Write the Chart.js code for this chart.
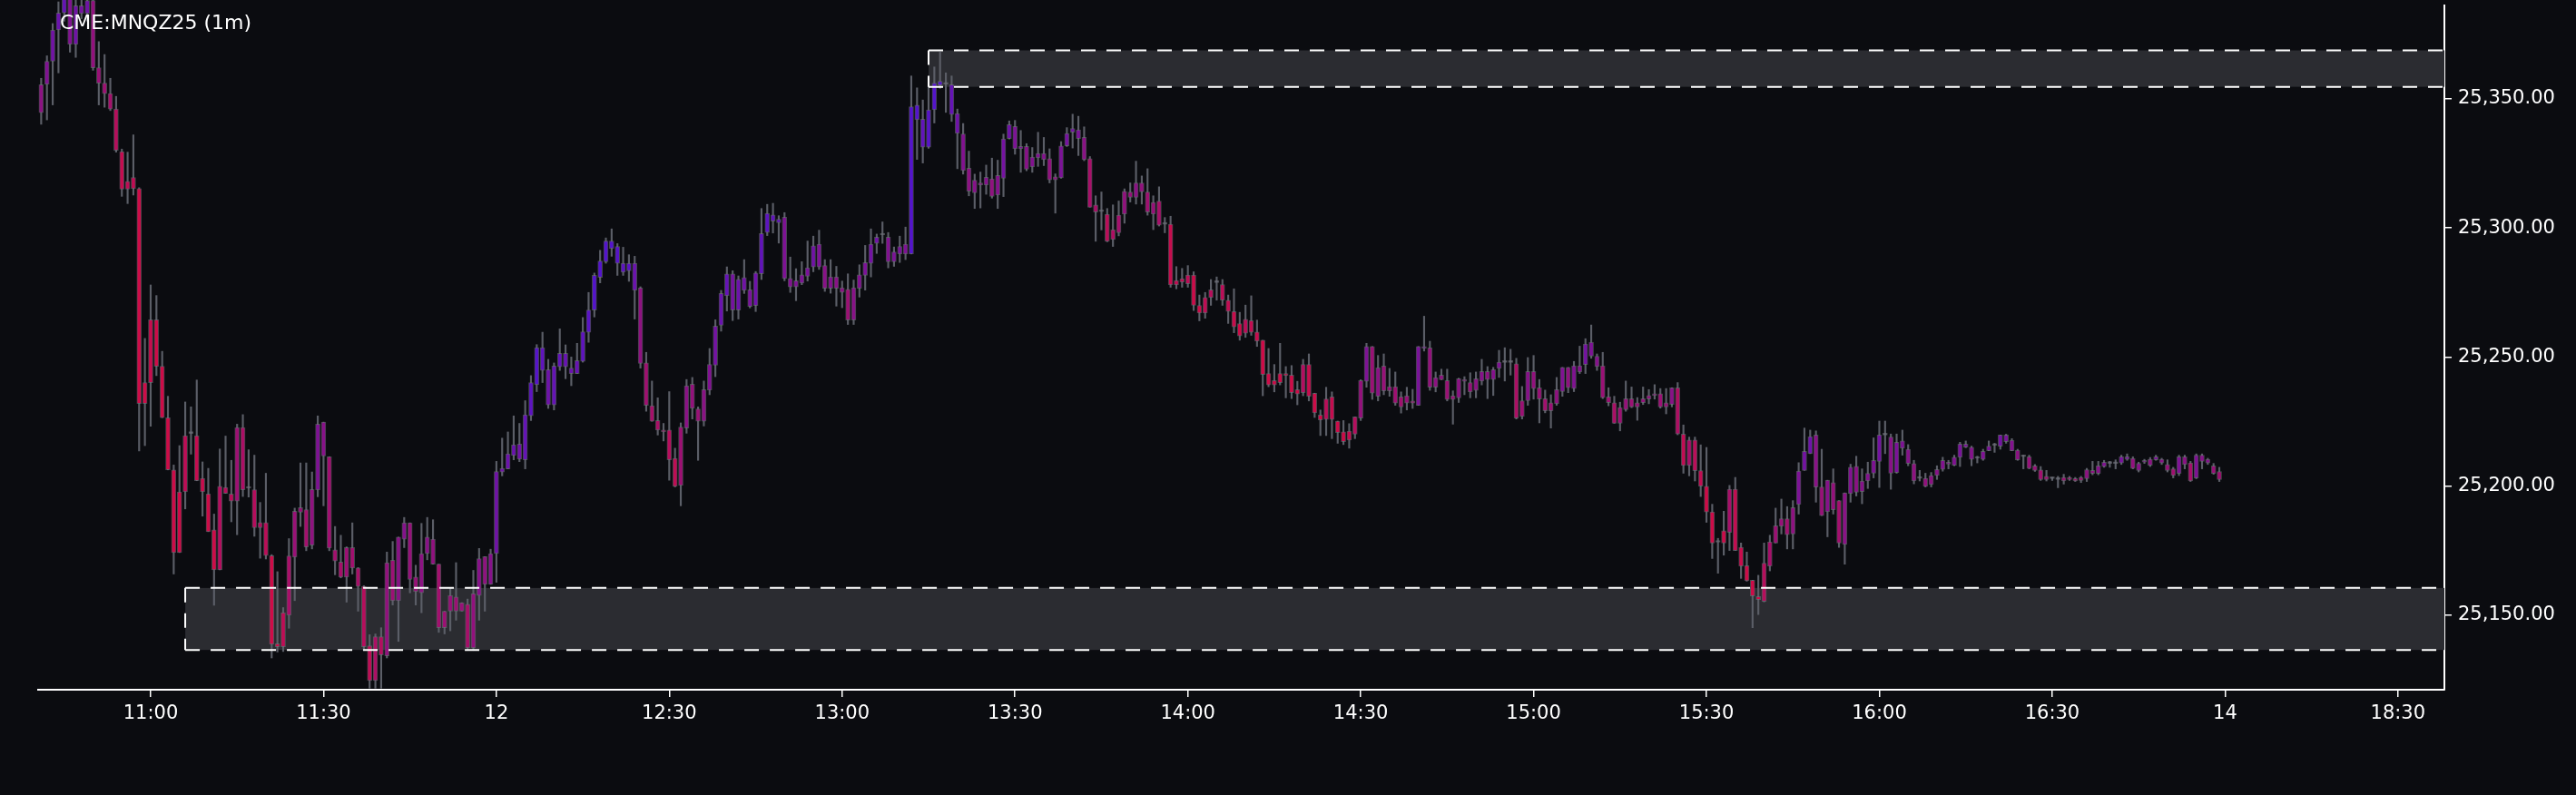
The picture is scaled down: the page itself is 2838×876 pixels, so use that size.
<!DOCTYPE html>
<html>
<head>
<meta charset="utf-8">
<script src="https://cdn.jsdelivr.net/npm/chart.js@4.4.0/dist/chart.umd.min.js"></script>
<style>
  html, body { margin: 0; padding: 0; background: #0b0c10; }
  #wrap { position: relative; width: 2838px; height: 876px; }
  #title {
    position: absolute; left: 66px; top: 12px;
    color: #ffffff; font: 22px 'DejaVu Sans', sans-serif; line-height: 26px;
    white-space: nowrap; pointer-events: none;
  }
</style>
</head>
<body>
<div id="wrap">
  <canvas id="chart" width="2838" height="876"></canvas>
  <div id="title">CME:MNQZ25 (1m)</div>
</div>
<script>
/* ── 1-minute bars, minutes counted from 11:00 ── */
const START_MIN = -19;

const OPEN = [
  25344.6,25355.6,25364.5,25376.6,25383.2,25389.0,25371.0,25386.0,25383.0,25388.0,
  25362.0,25356.0,25352.0,25346.0,25329.5,25315.0,25319.5,25315.2,25232.0,25240.1,
  25264.4,25246.4,25226.5,25206.3,25174.3,25197.8,25220.4,25219.5,25203.0,25197.0,
  25183.1,25167.6,25199.5,25197.0,25194.2,25222.7,25199.2,25198.6,25183.9,25185.9,
  25173.1,25139.0,25137.8,25150.0,25172.5,25189.9,25190.9,25177.2,25198.5,25224.8,
  25211.4,25175.4,25170.6,25164.8,25176.2,25168.3,25161.2,25138.2,25124.7,25141.7,
  25134.3,25171.3,25155.7,25179.5,25185.8,25164.8,25158.7,25173.9,25179.5,25169.8,
  25145.2,25151.6,25157.1,25151.6,25154.3,25137.4,25157.7,25172.7,25162.0,25173.9,
  25205.5,25206.7,25211.9,25216.3,25210.2,25227.2,25239.3,25253.6,25245.1,25231.5,
  25246.2,25251.4,25245.7,25243.6,25248.3,25259.6,25268.2,25280.8,25286.9,25294.9,
  25292.8,25286.3,25283.4,25286.3,25276.7,25247.7,25231.1,25225.4,25221.7,25221.7,
  25210.8,25200.3,25222.5,25239.5,25229.9,25225.1,25237.2,25246.8,25262.3,25273.7,
  25282.2,25268.2,25280.8,25276.0,25269.9,25282.2,25298.2,25305.0,25302.0,25304.1,
  25280.4,25277.1,25278.6,25281.3,25284.9,25293.7,25285.4,25276.6,25281.0,25276.8,
  25276.2,25264.3,25276.6,25281.6,25286.3,25294.0,25297.2,25296.4,25286.9,25289.9,
  25293.7,25289.9,25347.5,25342.1,25331.2,25345.7,25355.2,25355.6,25355.4,25344.3,
  25336.4,25323.1,25313.6,25317.4,25316.6,25319.0,25312.7,25319.2,25334.6,25339.3,
  25331.5,25331.5,25323.6,25327.1,25328.8,25326.8,25318.6,25319.4,25331.8,25337.0,
  25337.9,25335.0,25326.8,25308.9,25306.3,25305.3,25295.5,25298.1,25305.3,25313.9,
  25311.8,25317.4,25313.9,25305.3,25310.4,25301.4,25301.4,25277.9,25279.0,25278.4,
  25281.7,25270.0,25267.0,25273.0,25278.8,25278.0,25272.0,25267.6,25262.9,25259.2,
  25264.1,25259.7,25256.5,25243.6,25240.9,25240.1,25243.6,25243.0,25237.4,25236.2,
  25247.1,25236.0,25227.5,25225.8,25234.6,25225.2,25221.0,25217.8,25220.1,25226.4,
  25240.6,25254.1,25234.8,25246.5,25236.9,25238.5,25234.6,25232.2,25233.0,25231.3,
  25254.1,25253.5,25238.3,25243.0,25240.9,25233.6,25234.2,25241.2,25240.1,25237.1,
  25240.7,25244.4,25241.3,25245.6,25247.9,25247.9,25247.4,25227.0,25233.1,25244.4,
  25238.1,25233.9,25229.2,25231.9,25236.6,25246.0,25237.8,25246.6,25247.1,25255.7,
  25250.3,25246.6,25234.6,25232.3,25224.3,25229.6,25233.9,25230.7,25232.3,25233.7,
  25235.1,25235.8,25230.7,25231.6,25238.1,25220.2,25208.0,25217.9,25206.0,25200.0,
  25190.0,25178.3,25178.0,25182.1,25198.8,25176.3,25169.2,25163.6,25157.3,25155.4,
  25169.0,25178.0,25184.5,25187.4,25181.5,25192.9,25206.1,25212.6,25219.8,25199.7,
  25190.1,25201.4,25194.4,25177.4,25197.1,25207.7,25197.9,25202.0,25205.0,25209.6,
  25219.8,25219.0,25205.3,25217.5,25214.3,25208.7,25203.0,25203.0,25200.6,25204.1,
  25206.5,25209.3,25208.1,25211.2,25216.3,25215.1,25210.8,25210.4,25213.7,25215.8,
  25215.5,25219.8,25217.8,25213.9,25211.4,25211.4,25207.9,25206.3,25202.6,25202.9,
  25202.6,25202.0,25203.4,25202.9,25202.2,25202.9,25204.9,25204.9,25207.6,25208.8,
  25208.7,25209.0,25210.4,25210.8,25206.1,25209.3,25210.4,25210.2,25210.4,25208.4,
  25206.7,25204.9,25211.4,25209.0,25203.2,25212.0,25209.0,25207.9,25205.7
];

const HIGH = [
  25357.9,25366.6,25379.1,25387.5,25393.0,25392.0,25390.0,25392.0,25393.0,25391.0,
  25372.1,25367.1,25357.9,25350.9,25330.5,25329.3,25336.0,25315.5,25257.2,25277.9,
  25273.8,25252.2,25234.8,25208.2,25215.7,25232.6,25230.7,25241.1,25209.4,25206.9,
  25189.2,25214.4,25219.4,25210.0,25224.0,25227.7,25214.1,25212.0,25193.7,25205.0,
  25173.5,25166.9,25153.0,25179.7,25191.5,25209.0,25209.0,25205.5,25227.2,25224.8,
  25211.4,25184.4,25181.0,25176.5,25185.8,25168.5,25161.5,25142.5,25142.8,25145.2,
  25174.5,25178.6,25180.3,25187.9,25185.8,25169.4,25185.6,25187.9,25187.0,25169.8,
  25151.6,25160.4,25170.4,25154.9,25156.3,25167.4,25175.9,25172.7,25175.6,25209.6,
  25218.6,25221.0,25227.2,25224.3,25233.1,25242.8,25254.8,25259.6,25249.1,25247.7,
  25260.9,25254.7,25250.0,25255.3,25265.3,25275.0,25282.5,25291.3,25296.1,25299.6,
  25293.9,25292.5,25289.6,25289.0,25277.2,25251.8,25240.7,25234.2,25224.3,25236.6,
  25214.7,25224.5,25241.3,25242.1,25230.7,25240.7,25253.3,25264.4,25275.8,25284.9,
  25283.4,25281.4,25287.7,25279.3,25283.1,25307.5,25309.1,25309.5,25304.7,25305.9,
  25288.7,25284.2,25286.9,25294.9,25296.8,25299.1,25287.7,25287.7,25285.1,25279.4,
  25282.2,25279.8,25285.7,25293.2,25299.6,25297.6,25302.3,25298.2,25292.6,25296.8,
  25300.3,25358.8,25354.2,25349.5,25357.9,25362.3,25368.0,25360.0,25358.8,25346.0,
  25340.4,25329.7,25320.8,25321.6,25324.3,25327.0,25326.2,25336.3,25341.4,25341.6,
  25337.7,25332.6,25331.1,25337.0,25335.0,25330.6,25320.9,25333.4,25338.8,25344.0,
  25343.2,25339.1,25327.6,25312.4,25313.9,25307.5,25308.9,25310.4,25315.1,25317.4,
  25325.8,25320.1,25322.9,25312.4,25315.9,25304.0,25304.5,25285.0,25284.3,25285.4,
  25283.0,25274.0,25275.0,25280.0,25281.0,25280.0,25274.0,25276.4,25267.3,25270.1,
  25273.7,25264.3,25256.5,25253.3,25247.1,25255.3,25246.3,25246.7,25240.6,25249.1,
  25251.2,25236.0,25229.5,25238.3,25236.5,25225.2,25225.4,25224.2,25226.8,25241.2,
  25255.3,25254.1,25250.6,25251.2,25245.6,25244.2,25236.5,25238.3,25237.5,25254.1,
  25265.8,25256.1,25244.2,25245.3,25245.3,25236.9,25241.8,25242.4,25243.9,25244.2,
  25249.1,25246.3,25246.0,25252.6,25253.6,25253.0,25249.5,25238.6,25249.8,25250.6,
  25241.3,25237.2,25235.4,25242.1,25246.0,25246.0,25248.3,25254.2,25257.1,25262.4,
  25251.2,25251.8,25238.1,25234.8,25232.5,25240.7,25238.4,25234.3,25238.4,25237.4,
  25239.3,25237.8,25237.8,25238.1,25240.1,25223.7,25219.0,25219.0,25216.0,25215.0,
  25193.0,25179.8,25190.3,25200.3,25203.4,25178.0,25174.5,25163.6,25165.5,25178.0,
  25181.0,25191.5,25195.0,25192.1,25194.4,25209.1,25222.5,25221.7,25221.4,25214.3,
  25202.3,25206.7,25194.4,25197.4,25208.5,25211.6,25206.7,25209.3,25218.7,25225.2,
  25225.2,25220.2,25220.2,25221.7,25216.1,25210.0,25206.1,25205.0,25205.3,25207.9,
  25211.2,25210.0,25212.0,25217.0,25217.5,25215.5,25211.6,25214.3,25217.5,25216.6,
  25219.8,25220.1,25218.4,25214.3,25212.0,25212.0,25208.4,25207.6,25206.1,25203.4,
  25203.8,25204.6,25203.8,25203.4,25203.8,25206.9,25209.6,25209.6,25210.0,25209.6,
  25210.2,25212.0,25212.5,25211.4,25209.3,25210.4,25211.1,25212.0,25210.8,25210.2,
  25207.3,25212.0,25212.0,25209.6,25212.5,25212.5,25210.8,25208.8,25207.3
];

const LOW = [
  25340.1,25341.8,25347.6,25360.0,25380.0,25368.0,25366.0,25381.0,25380.0,25361.0,
  25347.6,25346.7,25345.4,25329.3,25312.2,25309.4,25312.7,25213.6,25215.7,25223.2,
  25242.8,25226.5,25206.3,25166.0,25174.3,25191.2,25212.4,25202.1,25188.4,25182.4,
  25153.9,25167.6,25197.2,25186.2,25181.2,25196.0,25195.8,25180.6,25172.1,25171.8,
  25133.5,25135.8,25136.0,25145.0,25155.7,25184.4,25175.0,25175.7,25195.9,25192.4,
  25175.0,25165.7,25164.5,25155.1,25166.0,25151.6,25136.4,25121.8,25121.8,25121.8,
  25133.5,25154.0,25139.9,25176.2,25158.7,25154.0,25151.0,25171.5,25169.8,25143.4,
  25142.8,25144.0,25148.1,25151.6,25136.4,25136.4,25148.1,25151.6,25162.0,25162.8,
  25204.0,25206.7,25210.2,25209.5,25206.7,25225.4,25236.6,25240.1,25230.1,25229.5,
  25244.8,25241.6,25238.9,25243.6,25248.0,25255.7,25265.5,25278.7,25286.3,25289.0,
  25281.6,25281.6,25279.3,25264.7,25245.7,25229.0,25225.1,25219.8,25217.5,25202.3,
  25199.7,25192.4,25220.5,25226.0,25210.0,25223.3,25235.4,25242.4,25260.0,25267.8,
  25264.1,25264.7,25274.6,25269.0,25267.6,25280.0,25297.0,25298.0,25294.1,25279.5,
  25275.0,25271.8,25278.0,25279.4,25283.0,25283.9,25275.4,25274.7,25269.7,25269.1,
  25262.6,25262.6,25273.2,25275.9,25281.0,25290.1,25294.0,25284.5,25285.1,25286.6,
  25287.7,25289.9,25326.5,25325.1,25330.8,25340.6,25354.0,25344.7,25341.2,25322.9,
  25320.8,25312.4,25307.5,25307.7,25313.0,25311.5,25307.5,25312.1,25334.4,25328.5,
  25321.5,25322.1,25321.5,25323.8,25324.1,25317.4,25305.7,25319.2,25331.5,25330.9,
  25328.0,25326.0,25308.0,25294.8,25299.2,25294.6,25292.8,25296.9,25301.8,25310.0,
  25309.2,25309.2,25304.9,25299.3,25300.7,25298.1,25277.0,25276.4,25277.0,25277.0,
  25268.0,25264.0,25265.0,25270.0,25272.0,25270.0,25263.0,25259.4,25256.5,25257.6,
  25258.4,25254.1,25235.0,25238.5,25236.5,25239.2,25234.2,25233.9,25231.5,25235.0,
  25233.0,25226.6,25219.6,25219.6,25218.4,25216.6,25216.1,25214.7,25218.4,25225.4,
  25238.3,25233.6,25233.0,25235.4,25234.8,25231.3,25228.3,25229.5,25230.1,25231.3,
  25252.3,25237.1,25236.5,25241.2,25233.0,25224.0,25232.4,25235.4,25234.2,25234.2,
  25239.2,25233.9,25235.1,25242.1,25240.7,25243.0,25226.0,25226.0,25231.3,25233.7,
  25224.5,25228.4,25222.5,25231.3,25234.8,25236.2,25236.6,25243.6,25243.6,25249.5,
  25244.8,25233.9,25231.1,25224.3,25221.4,25229.0,25230.4,25225.5,25231.6,25231.9,
  25233.7,25230.2,25228.0,25230.7,25219.9,25205.0,25204.0,25202.0,25196.0,25186.0,
  25172.0,25166.3,25173.3,25175.1,25175.1,25164.3,25163.2,25145.2,25150.3,25155.2,
  25167.2,25178.0,25181.5,25175.7,25175.7,25189.2,25206.1,25212.6,25193.8,25188.6,
  25180.4,25189.2,25176.3,25169.8,25193.8,25196.2,25193.2,25199.1,25203.2,25199.5,
  25212.6,25198.8,25205.0,25212.0,25207.9,25200.9,25202.0,25199.7,25199.7,25202.6,
  25205.8,25206.7,25207.9,25207.6,25214.9,25207.9,25209.0,25210.0,25213.7,25213.1,
  25214.3,25216.6,25213.7,25210.0,25206.7,25206.7,25205.7,25202.2,25202.0,25202.2,
  25199.4,25200.8,25202.2,25201.8,25201.4,25201.8,25204.4,25204.4,25207.3,25207.3,
  25206.7,25208.4,25210.0,25206.7,25205.5,25208.8,25207.6,25210.0,25208.4,25205.5,
  25203.2,25204.1,25206.7,25201.8,25202.9,25206.7,25208.4,25204.6,25201.8
];

const CLOSE = [
  25355.4,25364.5,25376.6,25383.2,25389.0,25371.0,25386.0,25383.0,25388.0,25362.0,
  25356.0,25352.0,25346.0,25330.0,25315.0,25318.0,25315.2,25232.0,25240.1,25264.4,
  25246.4,25226.5,25206.3,25174.3,25197.8,25219.5,25220.4,25202.1,25197.8,25182.4,
  25167.6,25200.0,25197.2,25194.2,25222.7,25198.6,25199.2,25183.9,25185.9,25173.1,
  25138.8,25137.8,25151.0,25173.0,25190.3,25191.7,25176.5,25198.7,25224.0,25211.7,
  25176.0,25171.0,25164.8,25176.2,25168.3,25161.2,25137.8,25124.7,25141.7,25134.7,
  25170.4,25155.7,25180.3,25185.8,25163.9,25159.2,25173.9,25180.3,25169.8,25145.2,
  25151.6,25157.7,25151.6,25154.9,25137.4,25158.4,25171.9,25162.0,25173.9,25205.7,
  25206.9,25212.5,25216.0,25210.5,25227.6,25240.1,25253.6,25244.8,25231.5,25246.5,
  25251.4,25246.2,25243.6,25248.6,25259.8,25268.2,25281.6,25287.2,25294.9,25292.0,
  25286.3,25282.8,25286.3,25275.8,25247.5,25231.3,25225.1,25221.7,25221.0,25210.2,
  25199.9,25222.9,25238.9,25230.1,25225.1,25237.4,25247.1,25262.0,25274.6,25282.2,
  25268.2,25280.1,25275.8,25269.6,25282.5,25297.8,25305.6,25302.6,25303.3,25280.4,
  25277.1,25279.5,25281.8,25284.5,25293.1,25284.9,25276.6,25281.0,25276.6,25275.0,
  25264.3,25276.8,25281.8,25286.6,25293.7,25296.4,25297.2,25286.9,25290.7,25292.8,
  25289.9,25346.9,25341.9,25331.2,25345.7,25356.0,25356.7,25355.6,25343.9,25336.6,
  25322.2,25314.2,25318.4,25316.6,25319.6,25312.2,25320.3,25334.4,25340.0,25330.6,
  25330.6,25322.7,25327.4,25328.8,25326.4,25318.6,25319.8,25331.7,25336.5,25338.5,
  25334.6,25326.4,25308.0,25306.1,25306.3,25294.8,25299.3,25304.9,25314.1,25311.8,
  25317.4,25313.9,25306.1,25309.8,25301.0,25301.4,25277.9,25279.6,25280.3,25281.7,
  25270.0,25267.0,25273.0,25276.0,25278.8,25272.0,25267.6,25261.7,25258.2,25264.6,
  25259.6,25256.1,25243.2,25239.2,25239.2,25243.6,25242.8,25236.2,25235.7,25247.1,
  25234.8,25228.4,25225.7,25233.8,25225.8,25220.7,25217.2,25221.3,25226.8,25240.9,
  25254.1,25236.0,25245.9,25236.9,25238.5,25232.2,25230.7,25235.0,25232.2,25254.1,
  25253.3,25238.3,25242.0,25241.2,25233.6,25235.0,25241.6,25240.6,25236.5,25241.6,
  25244.4,25241.3,25245.1,25248.0,25247.9,25247.9,25226.4,25233.1,25244.4,25237.8,
  25233.7,25229.2,25232.3,25237.4,25246.0,25238.1,25246.6,25244.2,25255.0,25250.3,
  25246.3,25234.3,25232.3,25224.3,25230.4,25233.9,25230.7,25232.3,25233.9,25235.1,
  25235.8,25230.7,25232.3,25238.1,25220.2,25208.0,25217.9,25206.0,25200.0,25190.0,
  25178.0,25178.3,25182.7,25198.8,25175.1,25169.0,25163.4,25157.5,25156.1,25170.2,
  25178.4,25184.7,25187.4,25181.2,25191.7,25205.8,25213.5,25219.2,25199.7,25188.6,
  25202.3,25190.9,25178.0,25197.4,25207.3,25197.6,25202.0,25205.0,25210.0,25219.8,
  25219.8,25205.0,25217.0,25214.7,25208.8,25202.0,25203.0,25199.9,25204.1,25206.5,
  25210.0,25208.5,25211.2,25216.3,25215.1,25210.4,25210.8,25213.5,25215.5,25215.8,
  25219.8,25217.2,25213.7,25210.2,25211.4,25206.9,25206.1,25202.6,25203.8,25202.9,
  25202.6,25203.4,25202.6,25202.0,25203.4,25206.4,25206.1,25207.9,25209.3,25208.8,
  25208.7,25211.4,25211.4,25206.9,25208.8,25210.0,25208.1,25211.4,25209.0,25206.1,
  25204.1,25211.4,25208.4,25202.0,25212.0,25209.6,25210.4,25204.9,25202.6
];

/* ── axes ── */
const X_TICKS  = [0, 30, 60, 90, 120, 150, 180, 210, 240, 270, 300, 330, 360, 390];
const X_LABELS = ['11:00', '11:30', '12', '12:30', '13:00', '13:30', '14:00', '14:30',
                  '15:00', '15:30', '16:00', '16:30', '14', '18:30'];
const Y_TICKS  = [25150, 25200, 25250, 25300, 25350];

/* ── shaded zones (start minute, low, high) ── */
const ZONE_START = [135, 6];
const ZONE_LOW   = [25354.6, 25136.6];
const ZONE_HIGH  = [25368.7, 25160.6];

/* ── colours ── */
const BG        = '#0b0c10';
const WICK      = '#5b5e67';
const DOJI      = '#6c6f78';
const ZONE_FILL = '#2b2c31';
const C_LOW  = [205, 12, 72];
const C_MID  = [140, 18, 130];
const C_HIGH = [84, 20, 204];

Chart.defaults.font.family = "'DejaVu Sans', sans-serif";
Chart.defaults.font.size = 21;
Chart.defaults.color = '#ffffff';

// RSI drives the candle tint: falling -> crimson, flat -> purple, rising -> violet
function rsi(closes, n) {
  const out = [];
  let ag = 4, al = 4;
  closes.forEach((c, i) => {
    const d = i ? c - closes[i - 1] : 0;
    ag = (ag * (n - 1) + Math.max(d, 0)) / n;
    al = (al * (n - 1) + Math.max(-d, 0)) / n;
    out.push(100 - 100 / (1 + ag / al));
  });
  return out;
}

function tint(r) {
  const t = Math.min(1, Math.max(0, (r - 30) / 40));
  const [a, b, k] = t < 0.5 ? [C_LOW, C_MID, t * 2] : [C_MID, C_HIGH, (t - 0.5) * 2];
  const c = a.map((v, j) => Math.round(v + (b[j] - v) * k));
  return `rgb(${c[0]},${c[1]},${c[2]})`;
}

const rsiVals = rsi(CLOSE, 14);
const bodyColors = OPEN.map((o, i) => (o === CLOSE[i] ? DOJI : tint(rsiVals[i])));

const wickData = OPEN.map((_, i) => ({ x: START_MIN + i, y: [LOW[i], HIGH[i]] }));
const bodyData = OPEN.map((o, i) => ({ x: START_MIN + i, y: [o, CLOSE[i]] }));

const zonePlugin = {
  id: 'zones',
  beforeDatasetsDraw(chart) {
    const { ctx, chartArea, scales: { x, y } } = chart;
    ctx.save();
    ctx.fillStyle = ZONE_FILL;
    ZONE_START.forEach((s, i) => {
      const left = x.getPixelForValue(s);
      const top = y.getPixelForValue(ZONE_HIGH[i]);
      const bot = y.getPixelForValue(ZONE_LOW[i]);
      ctx.fillRect(left, top, chartArea.right - left, bot - top);
    });
    ctx.restore();
  },
  afterDatasetsDraw(chart) {
    const { ctx, chartArea, scales: { x, y } } = chart;
    ctx.save();
    ctx.strokeStyle = '#ffffff';
    ctx.lineWidth = 2;
    ctx.setLineDash([16, 12]);
    ZONE_START.forEach((s, i) => {
      const left = x.getPixelForValue(s);
      const top = y.getPixelForValue(ZONE_HIGH[i]);
      const bot = y.getPixelForValue(ZONE_LOW[i]);
      ctx.beginPath();
      ctx.moveTo(left, top); ctx.lineTo(chartArea.right, top);
      ctx.moveTo(left, bot); ctx.lineTo(chartArea.right, bot);
      ctx.moveTo(left, top); ctx.lineTo(left, bot);
      ctx.stroke();
    });
    ctx.restore();
  }
};

const bgPlugin = {
  id: 'bg',
  beforeDraw(chart) {
    const { ctx, width, height } = chart;
    ctx.save();
    ctx.fillStyle = BG;
    ctx.fillRect(0, 0, width, height);
    ctx.restore();
  }
};

new Chart(document.getElementById('chart'), {
  type: 'bar',
  data: {
    datasets: [
      {
        label: 'body',
        data: bodyData,
        backgroundColor: bodyColors,
        borderColor: 'rgba(118,118,128,0.55)',
        borderWidth: 1,
        borderSkipped: false,
        barThickness: 5,
        minBarLength: 2,
        grouped: false,
        clip: false,
        order: 1,
      },
      {
        label: 'wick',
        data: wickData,
        backgroundColor: WICK,
        barThickness: 1.5,
        grouped: false,
        clip: false,
        order: 2,
      }
    ]
  },
  options: {
    responsive: false,
    animation: false,
    events: [],
    layout: { padding: { left: 42, top: 6, right: 0, bottom: 0 } },
    plugins: { legend: { display: false }, tooltip: { enabled: false } },
    scales: {
      x: {
        type: 'linear',
        offset: false,
        min: -19.53,
        max: 398.06,
        afterBuildTicks: (s) => { s.ticks = X_TICKS.map(v => ({ value: v })); },
        afterFit: (s) => { s.height = 116; },
        ticks: {
          autoSkip: false, maxRotation: 0, padding: 6, color: '#ffffff',
          callback: (v, i) => X_LABELS[i],
        },
        grid: { display: true, drawOnChartArea: false, drawTicks: true, tickLength: 8, color: '#ffffff', lineWidth: 1.5, offset: false },
        border: { display: true, color: '#ffffff', width: 2 },
      },
      y: {
        type: 'linear',
        position: 'right',
        beginAtZero: false,
        min: 25121.2,
        max: 25386.1,
        afterBuildTicks: (s) => { s.ticks = Y_TICKS.map(v => ({ value: v })); },
        // fixed axis width; no extra half-label padding above the plot
        afterFit: (s) => { s.width = 145; s.paddingTop = 0; s.paddingBottom = 0; },
        ticks: {
          padding: 7, color: '#ffffff',
          callback: (v) => v.toLocaleString('en-US', { minimumFractionDigits: 2, maximumFractionDigits: 2 }),
        },
        grid: { display: true, drawOnChartArea: false, drawTicks: true, tickLength: 8, color: '#ffffff', lineWidth: 1.5 },
        border: { display: true, color: '#ffffff', width: 2 },
      }
    }
  },
  plugins: [bgPlugin, zonePlugin]
});
</script>
</body>
</html>
